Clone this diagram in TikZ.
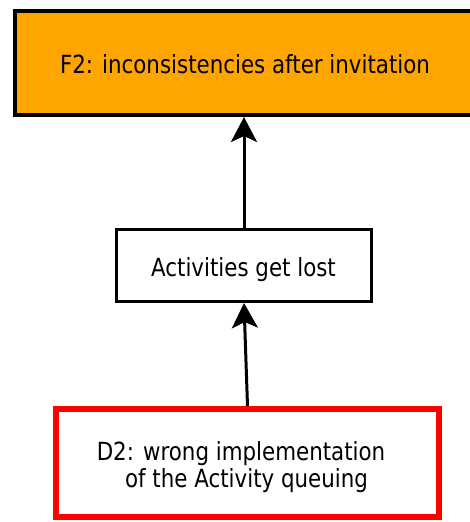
\documentclass[tikz,border=0pt]{standalone}
\usepackage{fontspec}
\setmainfont{DejaVu Sans}[FakeStretch=0.855]
\usetikzlibrary{arrows.meta}
\definecolor{boxorange}{HTML}{FFA500}
\definecolor{boxred}{HTML}{FF0000}
\begin{document}
\begin{tikzpicture}[x=1pt,y=-1pt,
  lbl/.style={font=\fontsize{25}{27}\selectfont, inner sep=0pt, anchor=base},
  box/.style={inner sep=0pt},
  topbox/.style={box, draw=black, fill=boxorange, line width=4pt, minimum width=466pt, minimum height=104pt},
  midbox/.style={box, draw=black, fill=white, line width=3pt, minimum width=255pt, minimum height=72pt},
  botbox/.style={box, draw=boxred, fill=white, line width=6pt, minimum width=383pt, minimum height=108pt},
  conn/.style={draw=black, line width=3pt, -{Stealth[length=25pt, width=26pt, inset=6pt]}}]
\useasboundingbox (0,0) rectangle (469,522);
\node[topbox] (top) at (248,63) {};
\node[midbox] (mid) at (244,265.5) {};
\node[botbox] (bot) at (247.5,463) {};
\node[lbl] (toptext) at (245,73) {F2: inconsistencies after invitation};
\node[lbl] (midtext) at (243.5,276) {Activities get lost};
\node[lbl] (bottext1) at (241,460) {D2: wrong implementation};
\node[lbl] (bottext2) at (246.5,487) {of the Activity queuing};
\draw[conn] (bot.north) -- (mid.south);
\draw[conn] (mid.north) -- (mid.north |- top.south);
\end{tikzpicture}
\end{document}
